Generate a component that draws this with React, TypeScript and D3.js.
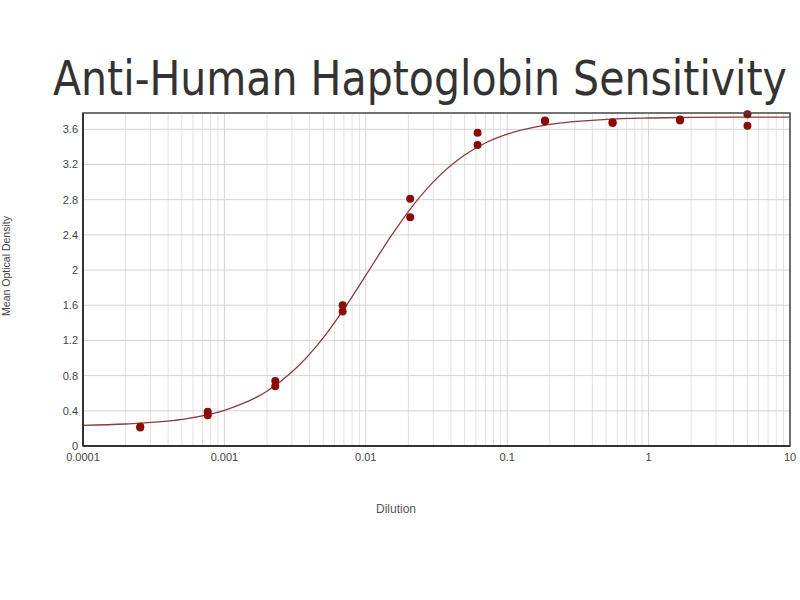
import { useEffect, useMemo, useRef, useState } from 'react';
import * as d3 from 'd3';

// dilution steps (1:3 series) and duplicate OD readings
const dilutions = [0.000254, 0.000762, 0.00229, 0.00686, 0.0206, 0.0617, 0.185, 0.556, 1.667, 5];
const odRep1 = [0.22, 0.39, 0.74, 1.60, 2.81, 3.56, 3.69, 3.68, 3.70, 3.77];
const odRep2 = [0.21, 0.35, 0.68, 1.53, 2.60, 3.42, 3.70, 3.67, 3.71, 3.64];

// fitted curve
const curveX = [0.0001, 0.0002, 0.0005, 0.001, 0.002, 0.003, 0.005, 0.007, 0.01, 0.015, 0.02, 0.03, 0.05, 0.07, 0.1, 0.2, 0.5, 1, 2, 5, 10];
const curveY = [0.235, 0.25, 0.302, 0.405, 0.622, 0.84, 1.23, 1.556, 1.94, 2.38, 2.665, 3.002, 3.308, 3.444, 3.544, 3.655, 3.712, 3.728, 3.735, 3.738, 3.739];

const yTicks = [0, 0.4, 0.8, 1.2, 1.6, 2, 2.4, 2.8, 3.2, 3.6];
const xTicks = [0.0001, 0.001, 0.01, 0.1, 1, 10];
const xTickLabels = ['0.0001', '0.001', '0.01', '0.1', '1', '10'];

const W = 800;
const H = 600;
const margin = { left: 83, right: 10, top: 113, bottom: 154 };
const TITLE_X = 53;
const TITLE_W = 734;

const App = () => {
  const titleRef = useRef<SVGTextElement>(null);
  const [titleScale, setTitleScale] = useState(0.78);

  // squeeze the title horizontally to the reference width
  useEffect(() => {
    if (!titleRef.current) return;
    const w = titleRef.current.getComputedTextLength();
    if (w > 0) setTitleScale(TITLE_W / w);
  }, []);

  const x = useMemo(() => d3.scaleLog().domain([0.0001, 10]).range([margin.left, W - margin.right]), []);
  const y = useMemo(() => d3.scaleLinear().domain([0, 3.785]).range([H - margin.bottom, margin.top]), []);

  // minor log grid: 2..9 per decade
  const minor: number[] = [];
  for (let e = -4; e < 1; e++) {
    for (let m = 2; m <= 9; m++) minor.push(m * Math.pow(10, e));
  }

  const line = d3.line<number>()
    .x((_, i) => x(curveX[i]))
    .y(d => y(d))
    .curve(d3.curveMonotoneX);

  const points = dilutions.flatMap((d, i) => [
    { dx: d, od: odRep1[i] },
    { dx: d, od: odRep2[i] },
  ]);

  const [x0, x1] = x.range();
  const [y0, y1] = y.range();
  const font = '"Liberation Sans", Arial, sans-serif';

  return (
    <div style={{ position: 'absolute', left: 0, top: 0 }}>
      <svg width={W} height={H} style={{ display: 'block', background: '#fff' }}>
        <g transform={`translate(${TITLE_X}, 95) scale(${titleScale}, 1)`}>
          <text
            ref={titleRef}
            x={0}
            y={0}
            fontFamily='"DejaVu Sans", sans-serif'
            fontSize={48}
            fill="#333"
          >
            Anti-Human Haptoglobin Sensitivity
          </text>
        </g>

        {/* grid */}
        <g stroke="#e2e2e2" strokeWidth={1}>
          {minor.map(v => (
            <line key={'m' + v} x1={x(v)} x2={x(v)} y1={y1} y2={y0} />
          ))}
        </g>
        <g stroke="#d4d4d4" strokeWidth={1}>
          {xTicks.map(v => (
            <line key={'M' + v} x1={x(v)} x2={x(v)} y1={y1} y2={y0} />
          ))}
          {yTicks.map(v => (
            <line key={'h' + v} x1={x0} x2={x1} y1={y(v)} y2={y(v)} />
          ))}
        </g>

        {/* fitted curve */}
        <path d={line(curveY) || ''} fill="none" stroke="#8c3a3a" strokeWidth={1.3} />

        {/* data points */}
        <g fill="#8b0a0a">
          {points.map((p, i) => (
            <circle key={i} cx={x(p.dx)} cy={y(p.od)} r={4} />
          ))}
        </g>

        {/* frame */}
        <rect x={x0} y={y1} width={x1 - x0} height={y0 - y1} fill="none" stroke="#444" strokeWidth={1.5} />
        <line x1={x0} x2={x0} y1={y1} y2={y0} stroke="#333" strokeWidth={2} />
        <line x1={x0} x2={x1} y1={y0} y2={y0} stroke="#333" strokeWidth={2} />

        {/* y ticks */}
        <g fontFamily={font} fontSize={11} fill="#444" textAnchor="end">
          {yTicks.map(v => (
            <text key={'yt' + v} x={x0 - 5} y={y(v) + 4}>{d3.format('~g')(v)}</text>
          ))}
        </g>

        {/* x ticks */}
        <g fontFamily={font} fontSize={11} fill="#444" textAnchor="middle">
          {xTicks.map((v, i) => (
            <text key={'xt' + v} x={x(v)} y={y0 + 15}>{xTickLabels[i]}</text>
          ))}
        </g>

        <text x={396} y={513} fontFamily={font} fontSize={12} fill="#555" textAnchor="middle">Dilution</text>
        <text
          transform={`translate(10, 266) rotate(-90)`}
          fontFamily={font}
          fontSize={10.5}
          fill="#444"
          textAnchor="middle"
        >
          Mean Optical Density
        </text>
      </svg>
    </div>
  );
};

export default App;
